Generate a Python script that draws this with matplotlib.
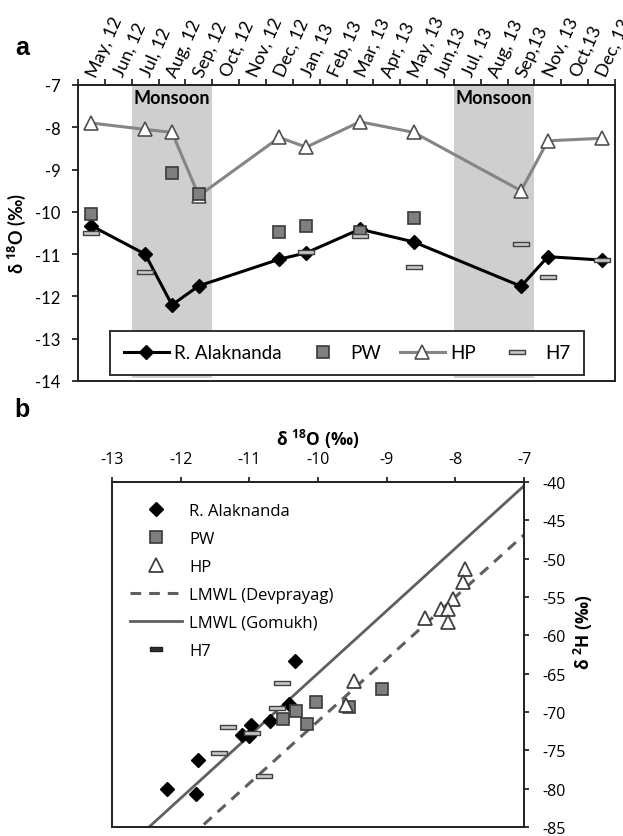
import matplotlib
matplotlib.use('Agg')
import matplotlib.pyplot as plt
import numpy as np
from matplotlib.path import Path
from matplotlib.lines import Line2D

plt.rcParams['axes.unicode_minus'] = False
plt.rcParams['mathtext.fontset'] = 'custom'
plt.rcParams['mathtext.rm'] = 'Open Sans'
plt.rcParams['mathtext.bf'] = 'Open Sans:bold'
plt.rcParams['font.family'] = ['Open Sans', 'DejaVu Sans']

FA = ['Lato', 'Open Sans', 'DejaVu Sans']
FB = ['Open Sans', 'DejaVu Sans']

# ---------------- data: panel a ----------------
months = ['May, 12', 'Jun, 12', 'Jul, 12', 'Aug, 12', 'Sep, 12', 'Oct, 12', 'Nov, 12',
          'Dec, 12', 'Jan, 13', 'Feb, 13', 'Mar, 13', 'Apr, 13', 'May, 13', 'Jun,13',
          'Jul, 13', 'Aug, 13', 'Sep,13', 'Nov, 13', 'Oct,13', 'Dec, 13']
monsoon_spans = [(1.5, 4.5), (13.5, 16.5)]

alak_idx = [0, 2, 3, 4, 7, 8, 10, 12, 16, 17, 19]
alak_val = [-10.33, -11.0, -12.2, -11.75, -11.12, -10.97, -10.41, -10.71, -11.76, -11.06, -11.14]
hp_idx = [0, 2, 3, 4, 7, 8, 10, 12, 16, 17, 19]
hp_val = [-7.9, -8.05, -8.12, -9.62, -8.24, -8.47, -7.87, -8.12, -9.5, -8.32, -8.26]
pw_idx = [0, 3, 4, 7, 8, 10, 12]
pw_val = [-10.04, -9.08, -9.58, -10.47, -10.33, -10.47, -10.15]
h7_idx = [0, 2, 8, 10, 12, 16, 17, 19]
h7_val = [-10.51, -11.43, -10.94, -10.58, -11.3, -10.77, -11.55, -11.14]

# ---------------- data: panel b ----------------
b_alak_x = [-10.33, -10.42, -10.70, -10.98, -11.11, -11.00, -11.75, -12.20, -11.77]
b_alak_y = [-63.4, -68.9, -71.2, -71.7, -73.0, -73.1, -76.2, -80.0, -80.7]
b_pw_x = [-10.03, -10.32, -10.51, -10.16, -9.55, -9.07]
b_pw_y = [-68.7, -69.9, -70.9, -71.6, -69.3, -67.0]
b_hp_x = [-9.48, -9.59, -7.86, -7.89, -8.03, -8.21, -8.11, -8.10, -8.44]
b_hp_y = [-65.9, -69.1, -51.3, -53.1, -55.3, -56.5, -56.5, -58.2, -57.8]
b_h7_x = [-10.53, -10.60, -11.31, -10.96, -11.44, -10.79]
b_h7_y = [-66.2, -69.5, -71.9, -72.8, -75.3, -78.3]

lmwl_gomukh = (8.15, 16.55)      # slope, intercept
lmwl_devprayag = (8.1, 9.8)

# H7 marker: flat rectangle
rect = Path([(-1, -0.27), (1, -0.27), (1, 0.27), (-1, 0.27), (-1, -0.27)],
            [Path.MOVETO, Path.LINETO, Path.LINETO, Path.LINETO, Path.CLOSEPOLY])

W, H = 623, 837
fig = plt.figure(figsize=(W / 100, H / 100), dpi=100)

# ================= Panel a =================
axa = fig.add_axes([78 / W, 1 - 382 / H, 537 / W, 296 / H])
axa.set_xlim(-0.5, 19.5)
axa.set_ylim(-14, -7)
for a0, a1 in monsoon_spans:
    axa.axvspan(a0, a1, ymin=0.01, color='#cfcfcf', lw=0, zorder=0)
    axa.text((a0 + a1) / 2, -7.3, 'Monsoon', ha='center', va='center',
             fontsize=13, fontweight='bold', family=FA, zorder=6)

l_alak, = axa.plot(alak_idx, alak_val, '-', color='black', lw=2.2, marker='D', ms=7,
                   mfc='black', mec='black', zorder=3, label='R. Alaknanda')
l_hp, = axa.plot(hp_idx, hp_val, '-', color='#858585', lw=2.2, marker='^', ms=9.5,
                 mfc='white', mec='#505050', mew=1.2, zorder=3, label='HP')
l_pw, = axa.plot(pw_idx, pw_val, ls='none', marker='s', ms=8, mfc='#7f7f7f',
                 mec='#3a3a3a', mew=1.2, zorder=4, label='PW')
l_h7, = axa.plot(h7_idx, h7_val, ls='none', marker=rect, ms=11, mfc='#c8c8c8',
                 mec='#404040', mew=1.0, zorder=5, label='H7')

axa.xaxis.tick_top()
axa.set_xticks(np.arange(-0.5, 20, 1))
axa.set_xticklabels([])
axa.set_xticks(np.arange(len(months)), minor=True)
axa.set_xticklabels(months, minor=True, rotation=66, ha='left', va='center',
                    rotation_mode='anchor', fontsize=13, family=FA)
axa.tick_params(axis='x', which='minor', length=0, pad=7, top=True, bottom=False)
axa.tick_params(axis='x', which='major', direction='out', length=4.5, width=1.1,
                top=True, bottom=False)
yt = list(range(-14, -6))
axa.set_yticks(yt)
axa.set_yticklabels([str(v) for v in yt], fontsize=12, family=FA)
axa.tick_params(axis='y', direction='out', length=4.5, width=1.1, pad=8)
for s in axa.spines.values():
    s.set_linewidth(1.4)
    s.set_color('#202020')
axa.set_ylabel(r'δ $^{\mathbf{18}}$O (‰)', fontsize=13, fontweight='bold', family=FA)
axa.yaxis.set_label_coords(-0.093, 0.5)

lega = axa.legend([l_alak, l_pw, l_hp, l_h7], ['R. Alaknanda', 'PW', 'HP', 'H7'],
                  ncol=4, loc='lower left', bbox_to_anchor=(0.0596, 0.0203, 0.8824, 0.155),
                  mode='expand', frameon=True, fancybox=False, framealpha=1,
                  edgecolor='#303030', borderaxespad=0, borderpad=0.72,
                  handlelength=2.4, handletextpad=0.3, prop={'family': FA, 'size': 13.5})
lega.get_frame().set_linewidth(1.4)
lega.set_zorder(7)

fig.text(22 / W, 1 - 48 / H, 'a', fontsize=18, fontweight='bold', ha='center', va='center',
         family=['Liberation Sans', 'DejaVu Sans'])

# ================= Panel b =================
axb = fig.add_axes([112 / W, 1 - 828 / H, 412 / W, 345 / H])
axb.set_xlim(-13, -7)
axb.set_ylim(-85, -40)
xx = np.array([-13.0, -7.0])
l_dev, = axb.plot(xx, lmwl_devprayag[0] * xx + lmwl_devprayag[1], color='#5f5f5f', lw=2.2,
                  ls=(0, (3.5, 2.6)), zorder=2)
l_gom, = axb.plot(xx, lmwl_gomukh[0] * xx + lmwl_gomukh[1], color='#5f5f5f', lw=2.0,
                  ls='-', zorder=2)
b_al, = axb.plot(b_alak_x, b_alak_y, ls='none', marker='D', ms=7, mfc='black', mec='black',
                 zorder=4)
b_pw, = axb.plot(b_pw_x, b_pw_y, ls='none', marker='s', ms=8, mfc='#7f7f7f', mec='#3a3a3a',
                 mew=1.2, zorder=4)
b_hp, = axb.plot(b_hp_x, b_hp_y, ls='none', marker='^', ms=9.5, mfc='white', mec='#404040',
                 mew=1.3, zorder=4)
b_h7, = axb.plot(b_h7_x, b_h7_y, ls='none', marker=rect, ms=11, mfc='#c8c8c8', mec='#404040',
                 mew=1.0, zorder=5)

axb.xaxis.tick_top()
axb.xaxis.set_label_position('top')
xt = list(range(-13, -6))
axb.set_xticks(xt)
axb.set_xticklabels([str(v) for v in xt], fontsize=11.5, family=FB)
axb.yaxis.tick_right()
axb.yaxis.set_label_position('right')
ytb = list(range(-85, -39, 5))
axb.set_yticks(ytb)
axb.set_yticklabels([str(v) for v in ytb], fontsize=11.5, family=FB)
axb.tick_params(axis='x', direction='out', length=3.5, width=1.1, pad=7)
axb.tick_params(axis='y', direction='out', length=3.5, width=1.1, pad=10)
for s in axb.spines.values():
    s.set_linewidth(1.4)
    s.set_color('#202020')
axb.set_xlabel(r'δ $^{\mathbf{18}}$O (‰)', fontsize=12.5, fontweight='bold', family=FB)
axb.xaxis.set_label_coords(0.5, 1 + (483 - 446) / 345)
axb.set_ylabel(r'δ $^{\mathbf{2}}$H (‰)', fontsize=12.5, fontweight='bold', family=FB)
axb.yaxis.set_label_coords((572 - 112) / 412, (828 - 632) / 345)

h7_leg = Line2D([], [], ls='none', marker=rect, ms=9, mfc='#303030', mec='#202020', mew=1.0)
legb = axb.legend([b_al, b_pw, b_hp, l_dev, l_gom, h7_leg],
                  ['R. Alaknanda', 'PW', 'HP', 'LMWL (Devprayag)', 'LMWL (Gomukh)', 'H7'],
                  loc='upper left', bbox_to_anchor=((130 - 112) / 412, (828 - 504) / 345),
                  frameon=False, borderaxespad=0, borderpad=0, handlelength=3.1,
                  handletextpad=0.45, labelspacing=0.72, prop={'family': FB, 'size': 12})

fig.text(22 / W, 1 - 410 / H, 'b', fontsize=18, fontweight='bold', ha='center', va='center',
         family=['Liberation Sans', 'DejaVu Sans'])

fig.savefig('out.png', dpi=100)
